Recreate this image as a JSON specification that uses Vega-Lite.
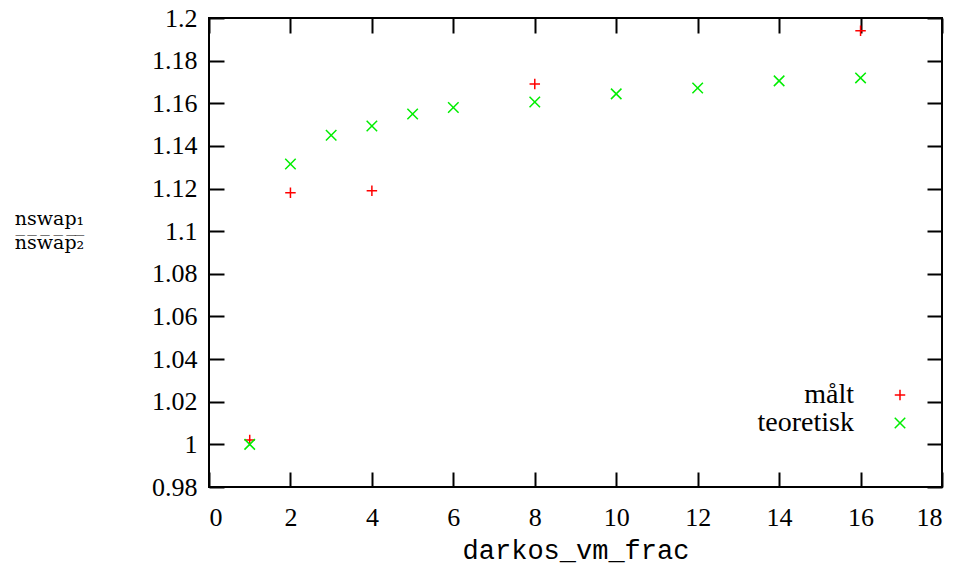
{
  "$schema": "https://vega.github.io/schema/vega-lite/v6.json",
  "autosize": "none",
  "width": 733,
  "height": 469,
  "padding": {"left": 209, "top": 18, "right": 24, "bottom": 79},
  "background": "white",
  "config": {
    "view": {"stroke": "black", "strokeWidth": 2},
    "axis": {"grid": false, "domain": false, "tickColor": "black", "tickWidth": 2, "tickSize": -15, "labelFont": "Liberation Serif", "labelFontSize": 26, "labelColor": "black", "titleColor": "black"}
  },
  "data": {"values": [
    {"frac": 1, "ratio": 1.002, "series": "målt"},
    {"frac": 2, "ratio": 1.118, "series": "målt"},
    {"frac": 4, "ratio": 1.119, "series": "målt"},
    {"frac": 8, "ratio": 1.169, "series": "målt"},
    {"frac": 16, "ratio": 1.194, "series": "målt"},
    {"frac": 1, "ratio": 1.000, "series": "teoretisk"},
    {"frac": 2, "ratio": 1.1315, "series": "teoretisk"},
    {"frac": 3, "ratio": 1.145, "series": "teoretisk"},
    {"frac": 4, "ratio": 1.1493, "series": "teoretisk"},
    {"frac": 5, "ratio": 1.155, "series": "teoretisk"},
    {"frac": 6, "ratio": 1.158, "series": "teoretisk"},
    {"frac": 8, "ratio": 1.1606, "series": "teoretisk"},
    {"frac": 10, "ratio": 1.1644, "series": "teoretisk"},
    {"frac": 12, "ratio": 1.1672, "series": "teoretisk"},
    {"frac": 14, "ratio": 1.1705, "series": "teoretisk"},
    {"frac": 16, "ratio": 1.1719, "series": "teoretisk"}
  ]},
  "layer": [
    {
      "mark": {"type": "point", "filled": false, "strokeWidth": 1.5, "size": 110, "opacity": 1},
      "encoding": {
        "x": {"field": "frac", "type": "quantitative", "scale": {"domain": [0, 18], "nice": false},
          "axis": {"orient": "bottom", "values": [0,2,4,6,8,10,12,14,16,18], "labelPadding": 32, "title": "darkos_vm_frac", "titleFont": "Liberation Mono", "titleFontSize": 27, "titleFontWeight": "normal", "titlePadding": 7}},
        "y": {"field": "ratio", "type": "quantitative", "scale": {"domain": [0.98, 1.2], "nice": false, "zero": false},
          "axis": {"orient": "left", "values": [0.98,1,1.02,1.04,1.06,1.08,1.1,1.12,1.14,1.16,1.18,1.2], "format": "~g", "labelPadding": 27,
            "title": ["nswap₁", "n̅s̅w̅a̅p̅₂̅"], "titleAngle": 0, "titleFont": "DejaVu Serif", "titleFontSize": 19, "titleFontWeight": "normal", "titleLineHeight": 24, "titleX": -160, "titleY": 206, "titleAlign": "center", "titleBaseline": "alphabetic"}},
        "color": {"field": "series", "type": "nominal", "scale": {"domain": ["målt", "teoretisk"], "range": ["#ff0000", "#00ee00"]},
          "legend": {"title": null, "orient": "none", "legendX": 677, "legendY": 363, "direction": "vertical", "labelAlign": "right", "labelOffset": -60, "labelFont": "Liberation Serif", "labelFontSize": 28, "labelColor": "black", "rowPadding": 0, "symbolSize": 110, "symbolStrokeWidth": 1.5}},
        "shape": {"field": "series", "type": "nominal", "scale": {"domain": ["målt", "teoretisk"], "range": ["M-1,0L1,0M0,-1L0,1", "M-1,-1L1,1M1,-1L-1,1"]}, "legend": null}
      }
    },
    {
      "mark": {"type": "point", "opacity": 0},
      "encoding": {
        "x": {"field": "frac", "type": "quantitative", "axis": {"orient": "top", "values": [0,2,4,6,8,10,12,14,16,18], "labels": false, "title": null}},
        "y": {"field": "ratio", "type": "quantitative", "axis": {"orient": "right", "values": [0.98,1,1.02,1.04,1.06,1.08,1.1,1.12,1.14,1.16,1.18,1.2], "labels": false, "title": null}}
      }
    }
  ]
}
